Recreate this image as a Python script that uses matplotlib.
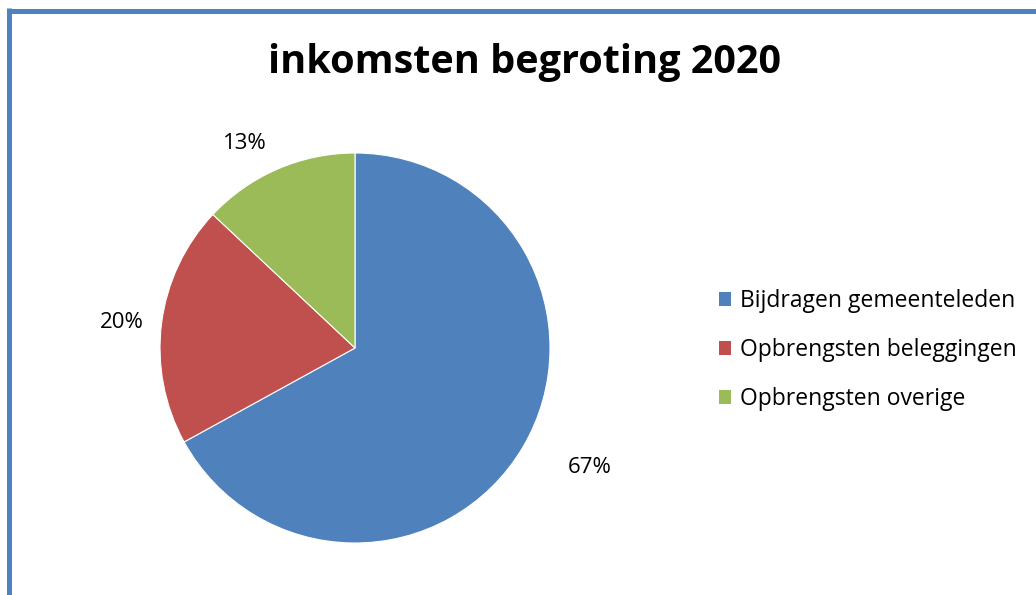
import matplotlib
matplotlib.use("Agg")
import matplotlib.pyplot as plt
from matplotlib.lines import Line2D
from matplotlib.patches import Patch

title = "inkomsten begroting 2020"
categories = ["Bijdragen gemeenteleden", "Opbrengsten beleggingen", "Opbrengsten overige"]
values = [67, 20, 13]
colors = ["#4F81BD", "#C0504D", "#9BBB59"]

plt.rcParams['font.family'] = ['Open Sans', 'DejaVu Sans']

fig = plt.figure(figsize=(10.36, 5.95), dpi=100)
fig.patch.set_facecolor("white")

# border (left and top)
fig.add_artist(Line2D([8.5/1036, 8.5/1036], [0, 1 - 8/595], transform=fig.transFigure,
                      color="#4F81BD", lw=3.6, solid_capstyle="butt"))
fig.add_artist(Line2D([7/1036, 1], [1 - 10.5/595, 1 - 10.5/595], transform=fig.transFigure,
                      color="#4F81BD", lw=3.6, solid_capstyle="butt"))

ax = fig.add_axes([160/1036, 52/595, 390/1036, 390/595])
wedges, texts, autotexts = ax.pie(values, colors=colors, startangle=90, counterclock=False,
                                  autopct="%1.0f%%", pctdistance=1.2,
                                  wedgeprops=dict(edgecolor="white", linewidth=0.8),
                                  textprops=dict(fontsize=16, color="#000000"))
# label placement (outside end, as in the original)
label_pos = [(1.205, -0.615), (-1.195, 0.133), (-0.564, 1.051)]
for t, (x, y) in zip(autotexts, label_pos):
    t.set_position((x, y))
    t.set_ha("center")
    t.set_va("center")
ax.set_xlim(-1, 1)
ax.set_ylim(-1, 1)
ax.set_aspect("equal")

fig.text(525/1036, 1 - 63/595, title, ha="center", va="center", fontsize=28.5, fontweight="bold")

handles = [Patch(facecolor=c, edgecolor="none") for c in colors]
fig.legend(handles, categories, loc="center left", bbox_to_anchor=(698/1036, 1 - 350/595),
           frameon=False, fontsize=16.5, handlelength=0.55, handleheight=0.55,
           handletextpad=0.4, labelspacing=1.1)

fig.savefig("out.png", dpi=100)
